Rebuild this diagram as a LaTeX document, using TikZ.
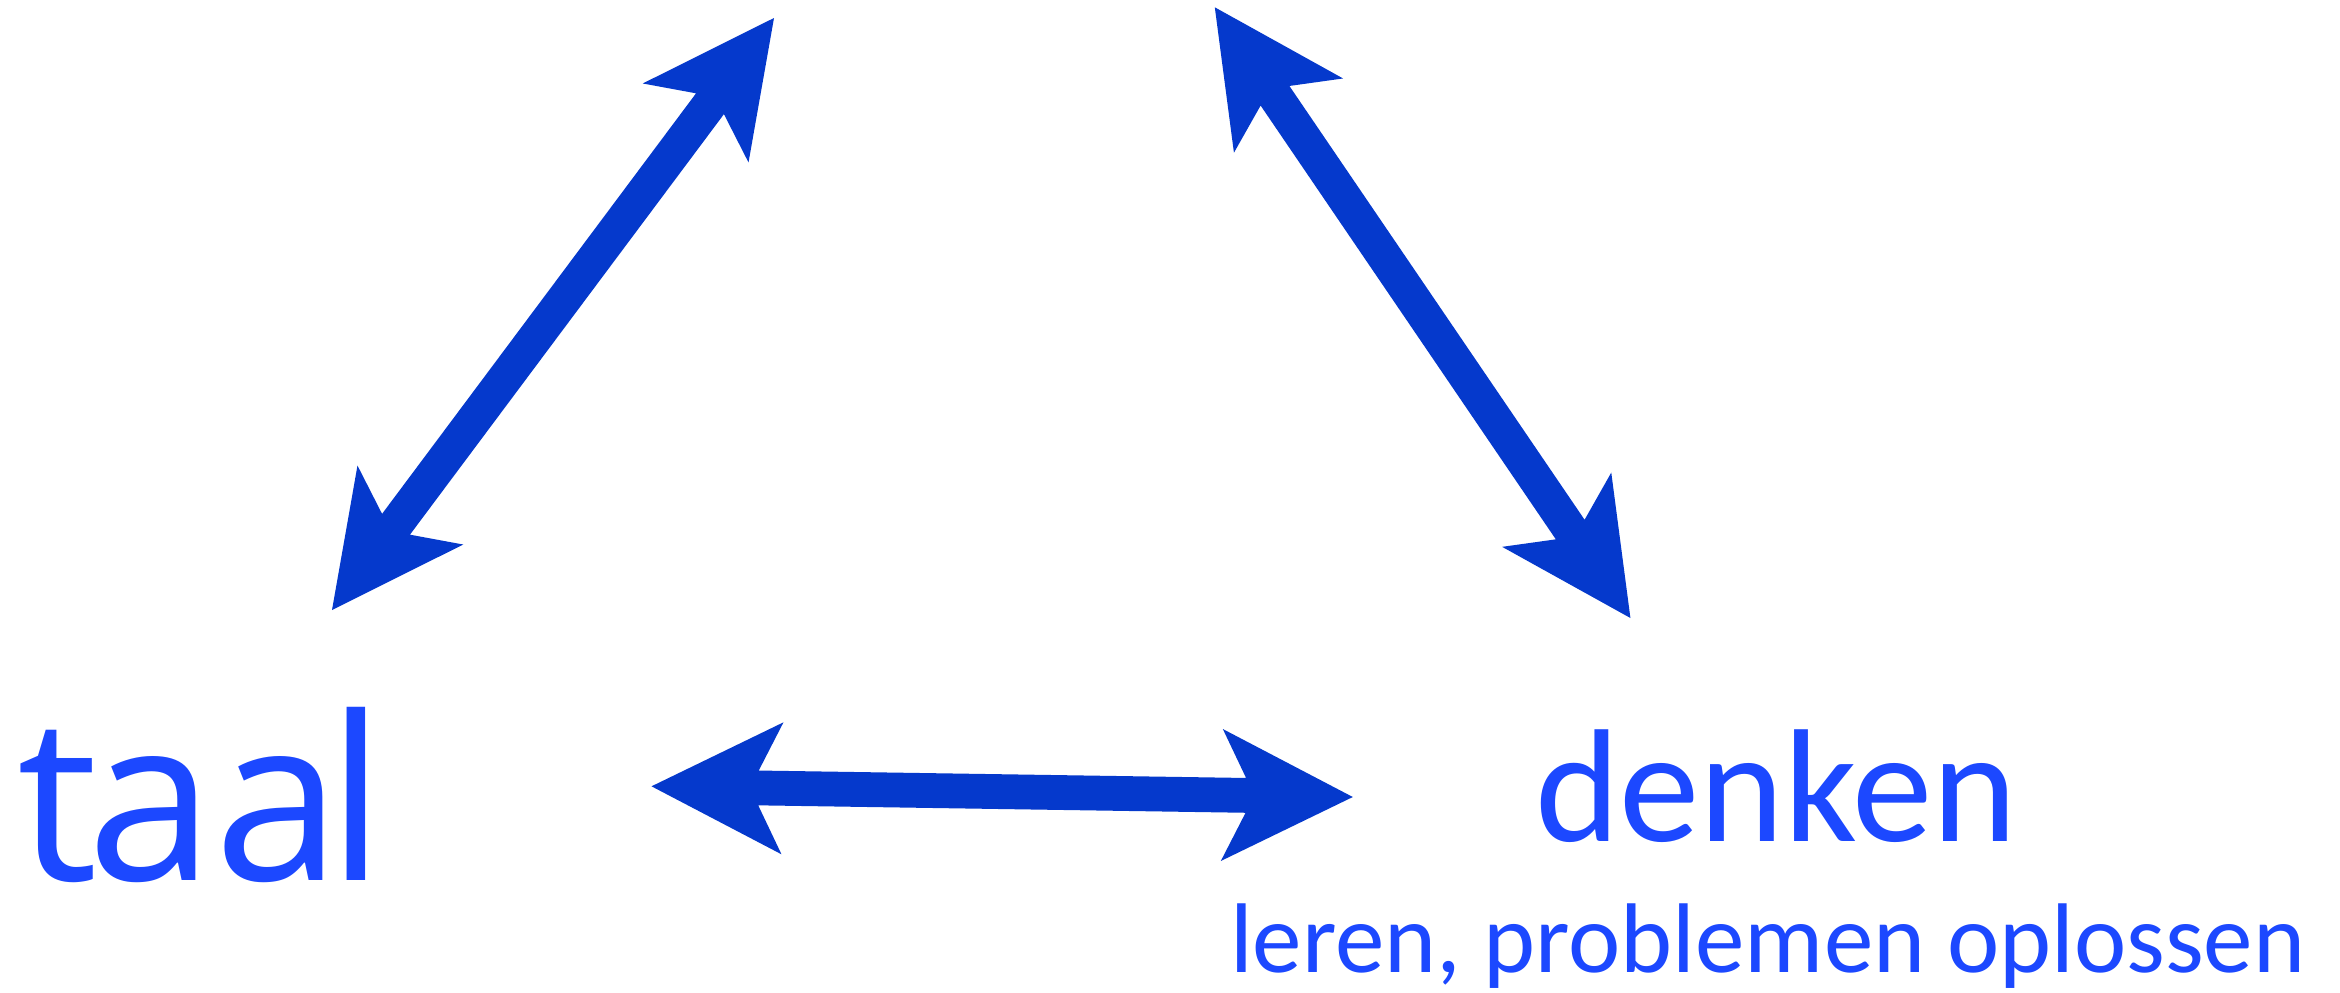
\documentclass[tikz,border=0pt]{standalone}
\usepackage{fontspec}
\usetikzlibrary{calc}
\newfontfamily\taalfont{Open Sans}
\newfontfamily\carlfont{Carlito}
\definecolor{txtblue}{RGB}{28,72,255}
\definecolor{arrblue}{RGB}{5,57,204}
\tikzset{
  arrowfill/.style={fill=arrblue},
  label text/.style={anchor=base west, inner sep=0pt, text=txtblue},
}
% double-headed arrow between two named coordinates
\newcommand{\biarrow}[2]{%
  \fill[arrowfill] (#1)
    -- ($(#1)!131pt!(#2)!66pt!90:(#2)$)
    -- ($(#1)!107pt!(#2)!17.4pt!90:(#2)$)
    -- ($(#2)!107pt!(#1)!17.4pt!-90:(#1)$)
    -- ($(#2)!131pt!(#1)!66pt!-90:(#1)$)
    -- (#2)
    -- ($(#2)!131pt!(#1)!66pt!90:(#1)$)
    -- ($(#2)!107pt!(#1)!17.4pt!90:(#1)$)
    -- ($(#1)!107pt!(#2)!17.4pt!-90:(#2)$)
    -- ($(#1)!131pt!(#2)!66pt!-90:(#2)$)
    -- cycle;}
\begin{document}
\begin{tikzpicture}[x=1pt,y=-1pt]
  \fill[white] (0,0) rectangle (2340,993);
  \useasboundingbox (0,0) rectangle (2340,993);

  % texts
  \node[label text, font=\taalfont\fontsize{228}{228}\selectfont] (taal) at (17,880) {t\kern-10pt aa\kern-14pt l};
  \node[label text, font=\carlfont\fontsize{161}{161}\selectfont] (denken) at (1535,841) {denken};
  \node[label text, font=\carlfont\fontsize{99}{99}\selectfont] (leren) at (1230,972) {leren, problemen oplossen};

  % arrow end points
  \coordinate (taalUp) at (332,610);
  \coordinate (topL) at (774,18);
  \coordinate (topR) at (1214.8,7.3);
  \coordinate (denkUp) at (1630.4,618);
  \coordinate (taalR) at (651.5,786.3);
  \coordinate (denkL) at (1352.8,797);

  \biarrow{taalUp}{topL}
  \biarrow{topR}{denkUp}
  \biarrow{taalR}{denkL}
\end{tikzpicture}
\end{document}
